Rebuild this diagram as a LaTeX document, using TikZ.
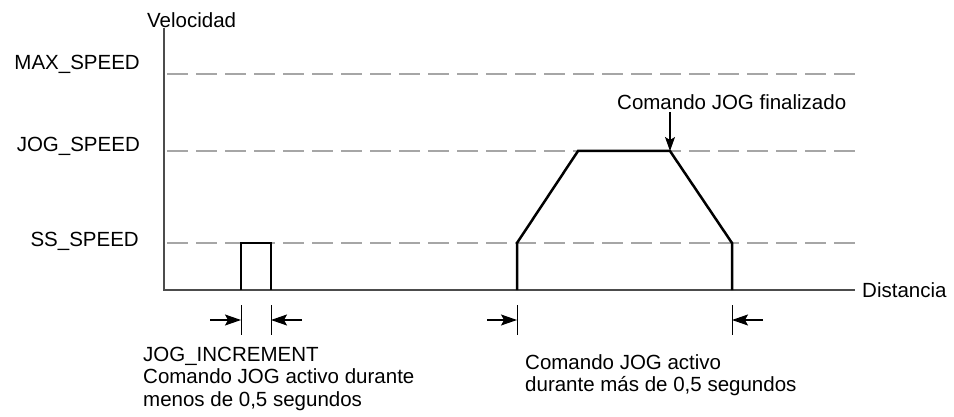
\documentclass[tikz,border=0pt]{standalone}
\usepackage{fontspec}
\setmainfont{Liberation Sans}
\usetikzlibrary{arrows.meta}
\begin{document}
\begin{tikzpicture}[x=1pt,y=-1pt,
  lbl/.style={inner sep=0pt, font=\fontsize{20.5}{23}\selectfont},
  axis/.style={line width=2pt, draw=black!70},
  guide/.style={line width=1.5pt, draw=black!35, dash pattern=on 20.5pt off 8.5pt},
  curve/.style={line width=2.5pt, line join=miter},
  tickline/.style={line width=1pt},
  dimarrow/.style={line width=1.2pt, -{Stealth[length=16pt,width=11pt,inset=3pt]}},
  callout/.style={line width=1.2pt, -{Stealth[length=14pt,width=10pt,inset=3pt]}},
]
\useasboundingbox (0,0) rectangle (954,417);
% labels
\node[lbl, anchor=base west] (vel) at (147,28) {Velocidad};
\node[lbl, anchor=base east] (max) at (140,70) {MAX\_SPEED};
\node[lbl, anchor=base east] (jog) at (140,152) {JOG\_SPEED};
\node[lbl, anchor=base east] (ss) at (139,247) {SS\_SPEED};
\node[lbl, anchor=base west] (dist) at (862,297) {Distancia};
\node[lbl, anchor=base west] (fin) at (617,110) {Comando JOG finalizado};
\node[lbl, anchor=base west] (inc1) at (143,361) {JOG\_INCREMENT};
\node[lbl, anchor=base west] (inc2) at (143,383.5) {Comando JOG activo durante};
\node[lbl, anchor=base west] (inc3) at (143,406) {menos de 0,5 segundos};
\node[lbl, anchor=base west] (act1) at (525,369) {Comando JOG activo};
\node[lbl, anchor=base west] (act2) at (525,391) {durante más de 0,5 segundos};
% coordinates
\coordinate (O) at (164,290);
\coordinate (Ytop) at (164,28);
\coordinate (Xend) at (855,290);
\coordinate (gmaxA) at (167,74);  \coordinate (gmaxB) at (856,74);
\coordinate (gjogA) at (167,151); \coordinate (gjogB) at (856,151);
\coordinate (gssA) at (167,243);  \coordinate (gssB) at (856,243);
\coordinate (p1) at (241,290); \coordinate (p2) at (241,243);
\coordinate (p3) at (271,243); \coordinate (p4) at (271,290);
\coordinate (t1) at (517,290); \coordinate (t2) at (517,243);
\coordinate (t3) at (578,151); \coordinate (t4) at (670,151);
\coordinate (t5) at (732,243); \coordinate (t6) at (732,290);
\coordinate (finA) at (670,112);
% guides
\draw[guide] (gmaxA) -- (gmaxB);
\draw[guide] (gjogA) -- (gjogB);
\draw[guide] (gssA) -- (gssB);
% axes
\draw[axis] (Ytop) -- (O) -- (Xend);
% curves
\draw[curve] (p1) -- (p2) -- (p3) -- (p4);
\draw[curve] (t1) -- (t2) -- (t3) -- (t4) -- (t5) -- (t6);
% callout
\draw[callout] (finA) -- (t4);
% dimension ticks
\foreach \x/\n in {241/a,271/b,517/c,732/d} {
  \coordinate (tk\n A) at (\x,305);
  \coordinate (tk\n B) at (\x,335);
  \draw[tickline] (tk\n A) -- (tk\n B);
}
\coordinate (daL) at (210,320); \coordinate (daT) at (241,320);
\coordinate (dbR) at (302,320); \coordinate (dbT) at (271,320);
\coordinate (dcL) at (487,320); \coordinate (dcT) at (517,320);
\coordinate (ddR) at (763,320); \coordinate (ddT) at (732,320);
\draw[dimarrow] (daL) -- (daT);
\draw[dimarrow] (dbR) -- (dbT);
\draw[dimarrow] (dcL) -- (dcT);
\draw[dimarrow] (ddR) -- (ddT);
\end{tikzpicture}
\end{document}
